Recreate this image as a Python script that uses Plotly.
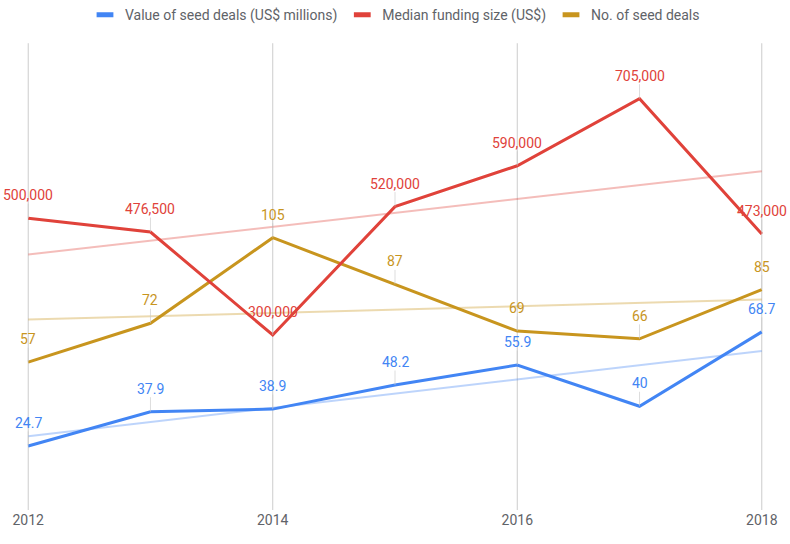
import numpy as np
import plotly.graph_objects as go

years = [2012, 2013, 2014, 2015, 2016, 2017, 2018]
value_deals = [24.7, 37.9, 38.9, 48.2, 55.9, 40, 68.7]
median_funding = [500000, 476500, 300000, 520000, 590000, 705000, 473000]
num_deals = [57, 72, 105, 87, 69, 66, 85]
tick_years = [2012, 2014, 2016, 2018]

names = ["Value of seed deals (US$ millions)", "Median funding size (US$)", "No. of seed deals"]
colors = ["#4285F4", "#E0423A", "#C8951E"]
trend_colors = ["rgba(66,133,244,0.35)", "rgba(224,66,58,0.35)", "rgba(200,149,30,0.35)"]

series = [value_deals, median_funding, num_deals]
axes = ["y", "y2", "y"]
fmt = [lambda v: f"{v:g}", lambda v: f"{v:,}", lambda v: f"{v}"]

fig = go.Figure()
x = np.array(years, dtype=float)
for vals, ax, tc in zip(series, axes, trend_colors):
    p = np.polyfit(x, np.array(vals, dtype=float), 1)
    fig.add_trace(go.Scatter(x=years, y=np.polyval(p, x), mode="lines", yaxis=ax,
                             line=dict(color=tc, width=2), showlegend=False, hoverinfo="skip"))

for vals, ax, c, n in zip(series, axes, colors, names):
    fig.add_trace(go.Scatter(x=years, y=vals, mode="lines", yaxis=ax, name=n,
                             line=dict(color=c, width=3), showlegend=False))
    fig.add_trace(go.Scatter(x=[None], y=[None], mode="markers", yaxis=ax, name=n,
                             marker=dict(symbol="line-ew", size=12,
                                         line=dict(color=c, width=5))))

annotations = []
for vals, ax, c, f in zip(series, axes, colors, fmt):
    for xv, yv in zip(years, vals):
        annotations.append(dict(x=xv, y=yv, xref="x", yref=ax, text=f(yv),
                                showarrow=True, arrowhead=0, arrowwidth=1,
                                arrowcolor="rgba(200,200,200,0.6)", ax=0, ay=-23,
                                standoff=0,
                                font=dict(family="Roboto", size=14, color=c),
                                borderpad=0))

shapes = [dict(type="line", xref="x", yref="paper", x0=t, x1=t, y0=0, y1=1,
               line=dict(color="#cccccc", width=1), layer="below") for t in tick_years]

fig.update_layout(
    width=790, height=544,
    margin=dict(l=27, r=27, t=42, b=34),
    paper_bgcolor="white", plot_bgcolor="white",
    font=dict(family="Roboto", size=14, color="#5f6368"),
    legend=dict(orientation="h", x=0.5, xanchor="center", yref="container", y=0.972,
                yanchor="middle", font=dict(size=14, color="#5f6368"),
                itemwidth=30, tracegroupgap=0),
    xaxis=dict(range=[2011.99, 2018.01], tickvals=tick_years, showgrid=False,
               zeroline=False, showline=False,
               tickfont=dict(size=14, color="#5f6368"), ticks="", ticklen=0),
    yaxis=dict(range=[0, 180], showgrid=False, showticklabels=False, zeroline=False),
    yaxis2=dict(range=[0, 800000], overlaying="y", showgrid=False, showticklabels=False,
                zeroline=False),
    annotations=annotations,
    shapes=shapes,
)
fig.write_html("out.html")
